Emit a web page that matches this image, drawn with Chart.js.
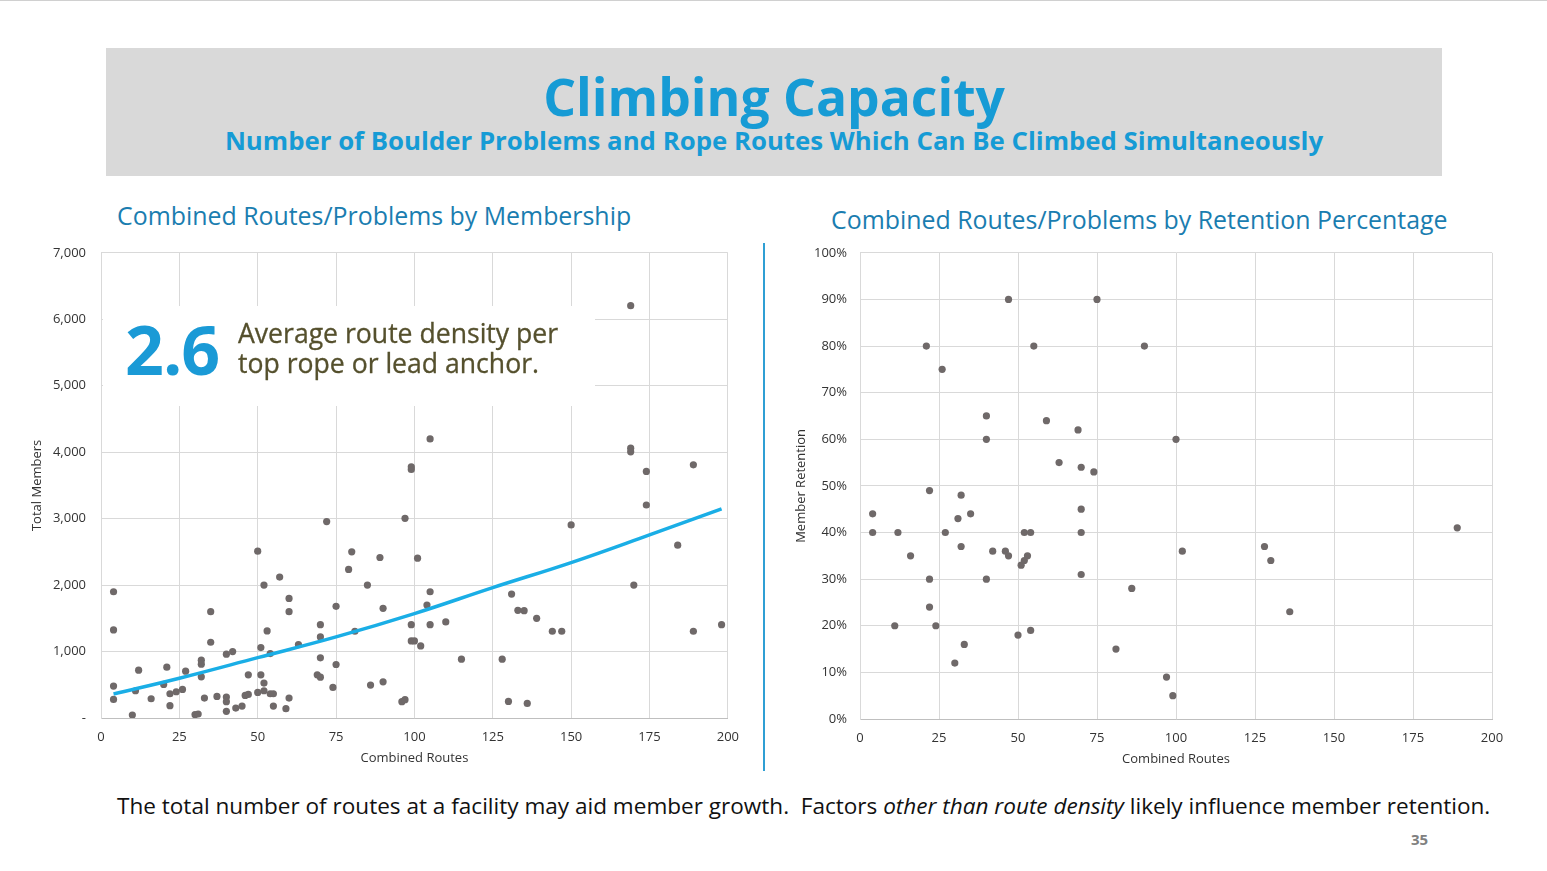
<!DOCTYPE html>
<html>
<head>
<meta charset="utf-8">
<title>Climbing Capacity</title>
<script src="https://cdn.jsdelivr.net/npm/chart.js@4/dist/chart.umd.min.js"></script>
<style>
  html, body { margin: 0; padding: 0; }
  body {
    width: 1547px;
    height: 871px;
    position: relative;
    overflow: hidden;
    background: #fff;
    font-family: "Open Sans", sans-serif;
    border-top: 1px solid #d0d0d0;
    box-sizing: border-box;
  }
  .banner {
    position: absolute; left: 106px; top: 47px; width: 1336px; height: 128px;
    background: #d9d9d9; text-align: center; color: #169bd5;
  }
  .banner h1 { margin: 0; position: absolute; left: 0; right: 0; top: 13px; font-size: 51.6px; font-weight: 700; line-height: 70px; }
  .banner h2 { margin: 0; position: absolute; left: 0; right: 0; top: 75px; font-size: 25.8px; font-weight: 700; line-height: 34px; }
  .chart-title { position: absolute; font-size: 24.9px; color: #1a7db0; white-space: nowrap; line-height: 34px; }
  .divider { position: absolute; left: 763px; top: 242px; width: 2px; height: 528px; background: #2f9fd4; }
  .chart-box { position: absolute; }
  .chart-box canvas { display: block; }
  .callout {
    position: absolute; left: 103px; top: 305px; width: 492px; height: 100px; background: #fff;
  }
  .callout .big {
    position: absolute; left: 22px; top: -2px; font-size: 68px; font-weight: 700; color: #1a9ad6;
    letter-spacing: -1px; line-height: 90px;
  }
  .callout .txt {
    position: absolute; left: 135px; top: 12px; font-size: 26.6px; color: #55502d; line-height: 30px; white-space: nowrap;
    -webkit-text-stroke: 0.3px #55502d;
  }
  .footer { position: absolute; left: 117px; top: 789px; font-size: 22.55px; color: #111; white-space: nowrap; line-height: 32px; }
  .page-num { position: absolute; left: 1411px; top: 828px; font-size: 15px; font-weight: 700; color: #808080; }
</style>
</head>
<body>
  <div class="banner">
    <h1>Climbing Capacity</h1>
    <h2>Number of Boulder Problems and Rope Routes Which Can Be Climbed Simultaneously</h2>
  </div>

  <div class="chart-title" style="left:117px; top:197px;">Combined Routes/Problems by Membership</div>
  <div class="chart-title" style="left:831px; top:201px;">Combined Routes/Problems by Retention Percentage</div>

  <div class="chart-box" style="left:20px; top:229px;">
    <canvas id="membershipChart" width="730" height="551"></canvas>
  </div>
  <div class="divider"></div>
  <div class="chart-box" style="left:780px; top:231px;">
    <canvas id="retentionChart" width="740" height="549"></canvas>
  </div>

  <div class="callout">
    <div class="big">2.6</div>
    <div class="txt">Average route density per<br>top rope or lead anchor.</div>
  </div>

  <div class="footer">The total number of routes at a facility may aid member growth.&nbsp; Factors <i>other than route density</i> likely influence member retention.</div>
  <div class="page-num">35</div>

<script>
// Membership data (combined routes vs total members)
var membershipRoutes = [4, 4, 4, 4, 10, 11, 12, 16, 20, 21, 22, 22, 24, 26, 27, 30, 31, 32, 32, 32,
  33, 35, 35, 37, 40, 42, 40, 40, 40, 43, 45, 46, 47, 47, 50, 50, 51, 51, 52, 52,
  52, 53, 54, 54, 55, 55, 57, 59, 60, 60, 60, 63, 70, 70, 70, 69, 70, 72, 74, 75,
  75, 79, 80, 81, 85, 86, 89, 90, 90, 96, 97, 97, 99, 99, 99, 99, 100, 101, 102, 105,
  105, 104, 105, 110, 115, 128, 130, 136, 131, 133, 135, 139, 144, 147, 150, 169, 169, 174, 174, 189,
  184, 170, 189, 198, 169];
var membershipTotals = [1900, 1325, 480, 280, 45, 410, 720, 290, 505, 765, 365, 185, 395, 430, 705, 50, 60, 870, 810, 620,
  300, 1600, 1140, 325, 960, 1000, 315, 245, 100, 150, 180, 340, 355, 650, 2510, 385, 1060, 650, 2000, 525,
  410, 1310, 970, 365, 365, 180, 2120, 140, 1800, 1600, 300, 1105, 1405, 1220, 905, 650, 615, 2955, 460, 1680,
  805, 2235, 2500, 1305, 2000, 495, 2415, 1650, 545, 245, 275, 3005, 3740, 3780, 1405, 1160, 1160, 2405, 1085, 4200,
  1900, 1700, 1405, 1445, 885, 885, 250, 220, 1865, 1620, 1615, 1500, 1305, 1305, 2905, 4060, 4005, 3710, 3205, 3810,
  2600, 2000, 1305, 1405, 6205];

// Trend line
var trendRoutes = [4, 25, 50, 75, 100, 125, 150, 175, 198];
var trendMembers = [361, 598, 908, 1220, 1571, 1962, 2339, 2756, 3148];

// Retention data (combined routes vs member retention %)
var retentionRoutes = [47, 75, 21, 55, 90, 26, 40, 40, 59, 69, 100, 63, 70, 74, 22, 32, 4, 31, 35, 70,
  4, 12, 16, 22, 22, 11, 24, 27, 32, 33, 30, 40, 42, 46, 47, 51, 52, 53, 52, 54,
  50, 54, 70, 70, 86, 81, 97, 99, 102, 128, 130, 136, 189];
var retentionPct = [90, 90, 80, 80, 80, 75, 65, 60, 64, 62, 60, 55, 54, 53, 49, 48, 44, 43, 44, 45,
  40, 40, 35, 30, 24, 20, 20, 40, 37, 16, 12, 30, 36, 36, 35, 33, 34, 35, 40, 40,
  18, 19, 40, 31, 28, 15, 9, 5, 36, 37, 34, 23, 41];

// Tick labels
var routeTicks = [0, 25, 50, 75, 100, 125, 150, 175, 200];
var memberTicks = ["-", "1,000", "2,000", "3,000", "4,000", "5,000", "6,000", "7,000"];
var retentionTicks = ["0%", "10%", "20%", "30%", "40%", "50%", "60%", "70%", "80%", "90%", "100%"];

var pointColor = "#6f6969";
var gridColor = "#d9d9d9";
var tickColor = "#333333";

function toPoints(xs, ys) {
  return xs.map(function (x, i) {
    return { x: x, y: ys[i] };
  });
}

function axisFont(size) {
  return { size: size, family: '"Open Sans", sans-serif' };
}

// Membership Chart
var membershipCanvas = document.getElementById("membershipChart");
if (membershipCanvas) {
  var ctx = membershipCanvas.getContext("2d");
  var data = {
    datasets: [
      {
        label: "Trend",
        data: toPoints(trendRoutes, trendMembers),
        showLine: true,
        borderColor: "#1aaee6",
        borderWidth: 3.5,
        pointRadius: 0,
        tension: 0.4,
        fill: false,
        order: 0,
      },
      {
        label: "Total Members",
        data: toPoints(membershipRoutes, membershipTotals),
        backgroundColor: pointColor,
        borderWidth: 0,
        pointRadius: 3.6,
        order: 1,
      },
    ],
  };
  var options = {
    responsive: false,
    animation: false,
    layout: { padding: { top: 1, right: 22, left: 0, bottom: 0 } },
    plugins: { legend: { display: false }, tooltip: { enabled: false } },
    scales: {
      x: {
        type: "linear",
        min: 0,
        max: 200,
        afterBuildTicks: function (scale) {
          scale.ticks = routeTicks.map(function (v) { return { value: v }; });
        },
        afterFit: function (scale) { scale.height = 63; },
        ticks: { color: tickColor, font: axisFont(13), padding: 11, maxRotation: 0 },
        grid: { color: gridColor, drawTicks: false },
        border: { color: "#bfbfbf" },
        title: { display: true, text: "Combined Routes", color: tickColor, font: axisFont(13), padding: { top: 0, bottom: 15 } },
      },
      y: {
        min: 0,
        max: 7000,
        ticks: {
          stepSize: 1000,
          color: tickColor,
          font: axisFont(13),
          padding: 15,
          callback: function (v) { return memberTicks[v / 1000]; },
        },
        afterFit: function (scale) { scale.width = 81; },
        grid: { color: gridColor, drawTicks: false },
        border: { color: gridColor },
        title: { display: true, text: "Total Members", color: tickColor, font: axisFont(13), padding: { top: 9, bottom: 0 } },
      },
    },
  };
  var membershipChart = new Chart(ctx, {
    type: "scatter",
    data: data,
    options: options,
  });
}

// Retention Chart
var retentionCanvas = document.getElementById("retentionChart");
if (retentionCanvas) {
  var ctx2 = retentionCanvas.getContext("2d");
  var retentionChart = new Chart(ctx2, {
    type: "scatter",
    data: {
      datasets: [
        {
          label: "Member Retention",
          data: toPoints(retentionRoutes, retentionPct),
          backgroundColor: pointColor,
          borderWidth: 0,
          pointRadius: 3.6,
        },
      ],
    },
    options: {
      responsive: false,
      animation: false,
      layout: { padding: { top: 4, right: 28, left: 0, bottom: 0 } },
      plugins: { legend: { display: false }, tooltip: { enabled: false } },
      scales: {
        x: {
          type: "linear",
          min: 0,
          max: 200,
          afterBuildTicks: function (scale) {
            scale.ticks = routeTicks.map(function (v) { return { value: v }; });
          },
          afterFit: function (scale) { scale.height = 62; },
          ticks: { color: tickColor, font: axisFont(13), padding: 11, maxRotation: 0 },
          grid: { color: gridColor, drawTicks: false },
          border: { color: "#bfbfbf" },
          title: { display: true, text: "Combined Routes", color: tickColor, font: axisFont(13), padding: { top: 0, bottom: 14 } },
        },
        y: {
          min: 0,
          max: 100,
          ticks: {
            stepSize: 10,
            color: tickColor,
            font: axisFont(13),
            padding: 13,
            callback: function (v) { return retentionTicks[v / 10]; },
          },
          afterFit: function (scale) { scale.width = 80; },
          grid: { color: gridColor, drawTicks: false },
          border: { color: gridColor },
          title: { display: true, text: "Member Retention", color: tickColor, font: axisFont(13), padding: { top: 13, bottom: 0 } },
        },
      },
    },
  });
}
</script>
</body>
</html>
